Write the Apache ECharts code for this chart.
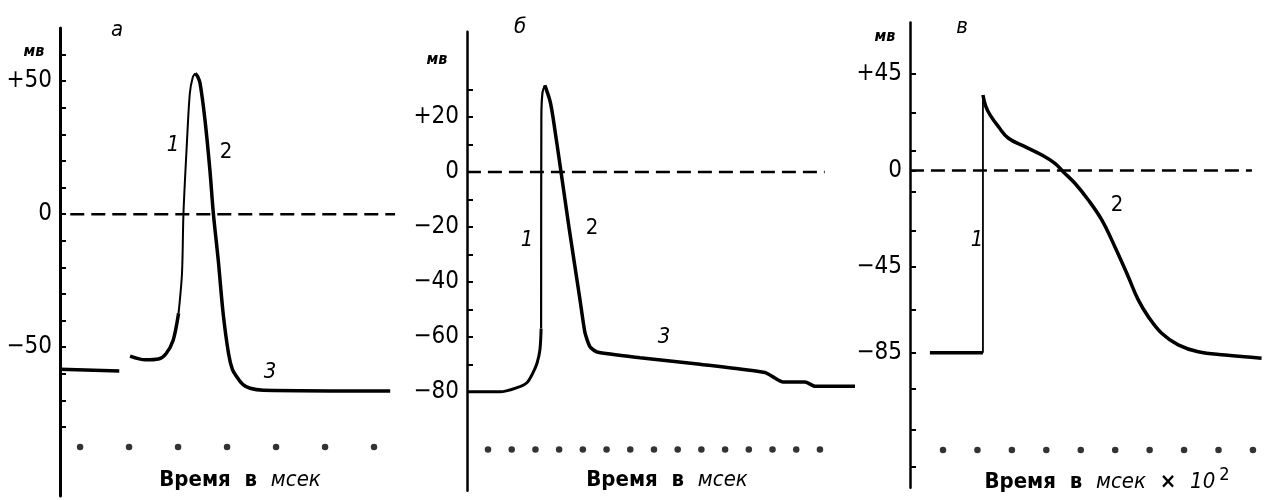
<!DOCTYPE html>
<html>
<head>
<meta charset="utf-8">
<script src="https://cdn.jsdelivr.net/npm/echarts@6/dist/echarts.min.js"></script>
<style>
  html, body { margin: 0; padding: 0; background: #fff; }
  #chart { width: 1272px; height: 500px; }
</style>
</head>
<body>
<div id="chart"></div>
<script>
// время в делениях (между точками отметки времени), потенциал в мв
// панель а
const aRest = [[0.59, -58.3], [1.8, -59]];
const aFoot = [[2.02, -53.4], [2.33, -54.8], [2.6, -54.5], [2.75, -52.6], [2.90, -47.4], [3.01, -37.3]];
const aRise = [[3.01, -37.3], [3.08, -22.3], [3.11, 0.3], [3.18, 26.6], [3.24, 45.4], [3.30, 51.5], [3.35, 52.9]];
const aFall = [[3.35, 52.9], [3.40, 51.8], [3.45, 49.1], [3.55, 35.3], [3.65, 16.5], [3.72, 0.3], [3.82, -17.3], [3.92, -37.3], [4.03, -52.4], [4.11, -58.5], [4.20, -61.2], [4.32, -64], [4.47, -65.5], [4.74, -66.2], [7.33, -66.5]];
const aZero = [0.8, 7.43];
const aDots = [1, 2, 3, 4, 5, 6, 7];
const aTicks = [60, 50, 40, 30, 20, 10, 0, -10, -20, -30, -40, -50, -60, -70, -80];
const aLabels = [50, 0, -50];

// панель б
const bFoot = [[0.11, -80], [1.51, -80], [2.22, -78.5], [2.64, -76.7], [2.90, -73], [3.07, -69.5], [3.19, -64.7], [3.24, -57]];
const bRise = [[3.24, -57], [3.25, 20], [3.30, 29], [3.40, 31.5]];
const bFall = [[3.40, 31.5], [3.61, 26], [3.74, 20], [4.08, 0], [4.42, -20.4], [4.88, -46.5], [5.09, -58.5], [5.30, -63.6], [5.60, -65.5], [7.41, -67.6], [9.94, -70], [12.68, -73], [13.10, -75], [13.44, -76.4], [14.37, -76.4], [14.79, -78], [16.48, -78]];
const bZero = [0.11, 15.2];
const bDots = [1, 2, 3, 4, 5, 6, 7, 8, 9, 10, 11, 12, 13, 14, 15];
const bTicks = [30, 20, 10, 0, -10, -20, -30, -40, -50, -60, -70, -80];
const bLabels = [20, 0, -20, -40, -60, -80];

// панель в
const cRest = [[0.62, -85], [2.16, -85]];
const cRise = [[2.16, -85], [2.16, 35.2]];
const cFall = [[2.16, 35.2], [2.24, 30.0], [2.37, 25.8], [2.61, 20.4], [2.90, 15.0], [3.38, 11.1], [3.87, 7.2], [4.25, 3.3], [4.49, -0.6], [4.83, -6.0], [5.22, -13.8], [5.61, -23.1], [5.99, -35.6], [6.38, -49.6], [6.67, -60.4], [6.96, -68.2], [7.35, -76.0], [7.83, -81.4], [8.41, -84.6], [9.19, -86.1], [10.25, -87.6]];
const cZero = [0.04, 9.97];
const cDots = [1, 2, 3, 4, 5, 6, 7, 8, 9, 10];
const cTicks = [45, 27, 9, 0, -10, -28, -45, -65, -85, -102, -121, -138];
const cLabels = [45, 0, -45, -85];

const numFont = "'DejaVu Sans Condensed', 'Liberation Sans Narrow', sans-serif";

const chart = echarts.init(document.getElementById('chart'));

const fmt = (v) => (v > 0 ? '+' + v : v < 0 ? '\u2212' + Math.abs(v) : '0');

const yAxisOf = (idx, min, max, ticks, labels, w) => ({
  type: 'value',
  gridIndex: idx,
  min: min,
  max: max,
  splitLine: { show: false },
  axisLine: { show: true, lineStyle: { color: '#000', width: w } },
  axisTick: { show: true, inside: true, length: 6, customValues: ticks, lineStyle: { color: '#000', width: 2 } },
  axisLabel: { show: true, customValues: labels, formatter: fmt, margin: 8, color: '#000', fontFamily: numFont, fontSize: 24 }
});
const xAxisOf = (idx, min, max) => ({ type: 'value', gridIndex: idx, min: min, max: max, show: false });

const line = (idx, data, w, smooth) => ({
  type: 'line', xAxisIndex: idx, yAxisIndex: idx, data: data, symbol: 'none', smooth: smooth || false,
  lineStyle: { color: '#000', width: w }, silent: true, z: 3
});
const zero = (idx, r) => ({
  type: 'line', xAxisIndex: idx, yAxisIndex: idx, data: [[r[0], 0], [r[1], 0]], symbol: 'none',
  lineStyle: { color: '#000', width: 2.5, type: [14, 7] }, silent: true, z: 2
});
const dots = (idx, xs, y) => ({
  type: 'scatter', xAxisIndex: idx, yAxisIndex: idx, data: xs.map((x) => [x, y]), symbolSize: 6.5,
  itemStyle: { color: '#000' }, silent: true
});

const txt = (x, y, text, font) => ({
  type: 'text', x: x, y: y, silent: true,
  style: { text: text, font: font, fill: '#000', textAlign: 'center', textVerticalAlign: 'middle' }
});
const xLabel = (x, y, sup) => ({
  type: 'text', x: x, y: y, silent: true,
  style: {
    text: '{n|Время  в  }{i|мсек}' + (sup ? '{n|  ×  }{i|10}{s|2}' : ''),
    fill: '#000', textAlign: 'center', textVerticalAlign: 'middle',
    rich: {
      n: { fontFamily: numFont, fontSize: 22, fontWeight: 'bold', fill: '#000' },
      i: { fontFamily: numFont, fontSize: 22, fontStyle: 'italic', fill: '#000' },
      s: { fontFamily: numFont, fontSize: 18, fill: '#000', padding: [0, 0, 14, 4] }
    }
  }
});

const it = "italic 22px " + numFont;
const up = "22px " + numFont;
const mv = "italic bold 16px " + numFont;

chart.setOption({
  backgroundColor: '#fff',
  animation: false,
  grid: [
    { left: 60, top: 28, width: 340, height: 468, containLabel: false, outerBoundsMode: 'none' },
    { left: 467, top: 31.75, width: 393, height: 459, containLabel: false, outerBoundsMode: 'none' },
    { left: 910, top: 22.5, width: 355, height: 465.2, containLabel: false, outerBoundsMode: 'none' }
  ],
  xAxis: [xAxisOf(0, 0.59, 7.53), xAxisOf(1, 0.114, 16.69), xAxisOf(2, 0.042, 10.35)],
  yAxis: [
    yAxisOf(0, -106, 70, aTicks, aLabels, 3),
    yAxisOf(1, -116, 51, bTicks, bLabels, 2.5),
    yAxisOf(2, -148, 69, cTicks, cLabels, 2.5)
  ],
  series: [
    zero(0, aZero), dots(0, aDots, -87.6),
    line(0, aRest, 3.5), line(0, aFoot, 3.5, 0.3), line(0, aRise, 2, 0.3), line(0, aFall, 3.5, 0.3),
    zero(1, bZero), dots(1, bDots, -101),
    line(1, bFoot, 3, 0.3), line(1, bRise, 2.2, 0.3), line(1, bFall, 3.5, 0.2),
    zero(2, cZero), dots(2, cDots, -130.4),
    line(2, cRest, 3.5), line(2, cRise, 1.8), line(2, cFall, 3.5, 0.4)
  ],
  graphic: [
    txt(117, 30, 'а', it), txt(34, 52, 'мв', mv),
    txt(173, 145, '1', it), txt(226, 152, '2', up), txt(270, 372, '3', it),
    xLabel(240, 480),
    txt(520, 27, 'б', it), txt(437, 60, 'мв', mv),
    txt(527, 240, '1', it), txt(592, 228, '2', up), txt(664, 337, '3', it),
    xLabel(667, 480),
    txt(962, 27, 'в', it), txt(885, 37, 'мв', mv),
    txt(977, 240, '1', it), txt(1117, 205, '2', up),
    xLabel(1107, 482, true)
  ]
});
</script>
</body>
</html>
